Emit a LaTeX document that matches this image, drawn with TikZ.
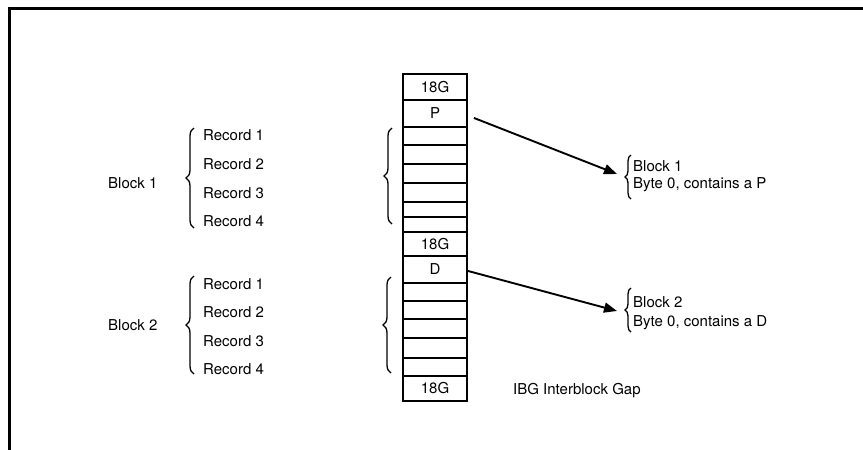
\documentclass[tikz,border=0pt]{standalone}
\usepackage{fontspec}
\setmainfont{TeX Gyre Heros}
\usetikzlibrary{decorations.pathreplacing,arrows.meta}
\newcommand\dfont{\fontsize{15}{17}\selectfont}
\begin{document}
\begin{tikzpicture}[x=1pt,y=-1pt,
  cell/.style={draw, line width=1.9pt, minimum width=64pt, inner sep=0pt, anchor=north, font=\dfont},
  lbl/.style={inner sep=0pt, anchor=west, font=\dfont},
  brc/.style={decorate, decoration={brace, amplitude=#1}, line width=1.3pt},
  arr/.style={-{Triangle[length=13pt,width=10pt]}, line width=1.9pt}]
\useasboundingbox (0,0) rectangle (863,450);
% frame
\draw[line width=3pt] (9,452) -- (9,8) -- (866,8);
% column cells
\node[cell, minimum height=26pt] (c1) at (435,73) {18G};
\node[cell, minimum height=27pt] (c2) at (435,99) {P};
\node[cell, minimum height=18pt] (c3) at (435,126) {};
\node[cell, minimum height=19pt] (c4) at (435,144) {};
\node[cell, minimum height=19pt] (c5) at (435,163) {};
\node[cell, minimum height=19pt] (c6) at (435,182) {};
\node[cell, minimum height=15pt] (c7) at (435,201) {};
\node[cell, minimum height=15pt] (c8) at (435,216) {};
\node[cell, minimum height=24pt] (c9) at (435,231) {18G};
\node[cell, minimum height=27pt] (c10) at (435,255) {D};
\node[cell, minimum height=18pt] (c11) at (435,282) {};
\node[cell, minimum height=18pt] (c12) at (435,300) {};
\node[cell, minimum height=19pt] (c13) at (435,318) {};
\node[cell, minimum height=20pt] (c14) at (435,337) {};
\node[cell, minimum height=18pt] (c15) at (435,357) {};
\node[cell, minimum height=25pt] (c16) at (435,375) {18G};
% left labels
\node[lbl] (b1) at (108,183) {Block 1};
\node[lbl] (r11) at (203,135) {Record 1};
\node[lbl] (r12) at (203,164) {Record 2};
\node[lbl] (r13) at (203,193) {Record 3};
\node[lbl] (r14) at (203,221) {Record 4};
\node[lbl] (b2) at (108,325) {Block 2};
\node[lbl] (r21) at (203,284) {Record 1};
\node[lbl] (r22) at (203,312) {Record 2};
\node[lbl] (r23) at (203,341) {Record 3};
\node[lbl] (r24) at (203,369) {Record 4};
% braces
\draw[brc=8pt] (194,228) -- (194,128);
\draw[brc=8pt] (194,374) -- (194,276);
\draw[brc=8pt] (392,224) -- (392,128);
\draw[brc=8pt] (391,373) -- (391,277);
\draw[brc=6pt] (631,199) -- (631,155);
\draw[brc=6pt] (631,332) -- (631,288);
% right labels
\node[lbl] (n1a) at (633,166) {Block 1};
\node[lbl] (n1b) at (633,185) {Byte 0, contains a P};
\node[lbl] (n2a) at (633,302) {Block 2};
\node[lbl] (n2b) at (633,323) {Byte 0, contains a D};
\node[lbl] (ibg) at (513,391) {IBG Interblock Gap};
% arrows
\coordinate (t1) at (617,174);
\coordinate (t2) at (617,311);
\draw[arr] ([xshift=6pt,yshift=-4.5pt]c2.east) -- (t1);
\draw[arr] ([yshift=-1.5pt]c10.east) -- (t2);
\end{tikzpicture}
\end{document}
